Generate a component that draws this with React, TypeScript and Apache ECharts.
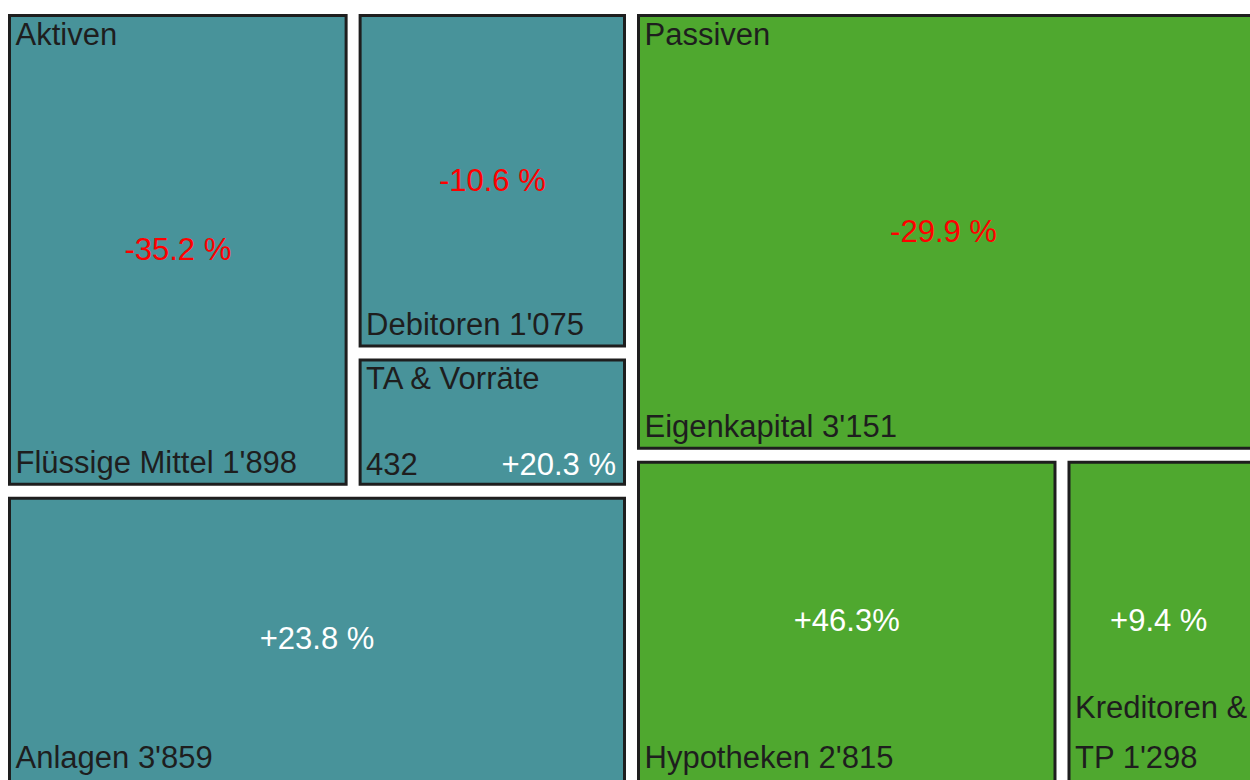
import { useEffect, useRef } from "react";
import * as echarts from "echarts";

// ---- data ----
const sideNames = ["Aktiven", "Passiven"];
const aktivNames = ["Flüssige Mittel", "Debitoren", "TA & Vorräte", "Anlagen"];
const aktivValues = [1898, 1075, 432, 3859];
const aktivChanges = ["-35.2 %", "-10.6 %", "+20.3 %", "+23.8 %"];
const passivNames = ["Eigenkapital", "Hypotheken", "Kreditoren & TP"];
const passivValues = [3151, 2815, 1298];
const passivChanges = ["-29.9 %", "+46.3%", "+9.4 %"];
const sideColors = ["#48939A", "#4FA82F"];

// ---- structure (slice & dice nesting, indices into the leaf lists) ----
type Tree = number | { dir: "h" | "v"; kids: Tree[] };
const A = aktivNames.length;
const aktivTree: Tree = { dir: "v", kids: [{ dir: "h", kids: [0, { dir: "v", kids: [1, 2] }] }, 3] };
const passivTree: Tree = { dir: "v", kids: [A + 0, { dir: "h", kids: [A + 1, A + 2] }] };
const rootTree: Tree = { dir: "h", kids: [aktivTree, passivTree] };

const leafNames = [...aktivNames, ...passivNames];
const leafValues = [...aktivValues, ...passivValues];
const leafChanges = [...aktivChanges, ...passivChanges];
const leafSide = [...aktivNames.map(() => 0), ...passivNames.map(() => 1)];
const leafFirstOfSide = leafNames.map((_, i) => i === 0 || i === A);

const sumTree = (t: Tree): number =>
  typeof t === "number" ? leafValues[t] : t.kids.reduce((s, k) => s + sumTree(k), 0);

const aktivTotal = aktivValues.reduce((a, b) => a + b, 0);
const passivTotal = passivValues.reduce((a, b) => a + b, 0);
const grandTotal = aktivTotal + passivTotal;
const sideMax = Math.max(aktivTotal, passivTotal);

function layout(t: Tree, x0: number, y0: number, x1: number, y1: number, out: number[][]) {
  if (typeof t === "number") {
    out[t] = [x0, y0, x1, y1];
    return;
  }
  const total = sumTree(t);
  let acc = 0;
  for (const k of t.kids) {
    const v = sumTree(k);
    const f0 = acc / total;
    const f1 = (acc + v) / total;
    if (t.dir === "h") layout(k, x0 + (x1 - x0) * f0, y0, x0 + (x1 - x0) * f1, y1, out);
    else layout(k, x0, y0 + (y1 - y0) * f0, x1, y0 + (y1 - y0) * f1, out);
    acc += v;
  }
}

const fmt = (v: number) => String(v).replace(/\B(?=(\d{3})+(?!\d))/g, "'");

const FONT_FAMILY = "'Liberation Sans', Arial, Helvetica, sans-serif";
const FONT_SIZE = 31;
const TEXT_COLOR = "#1e1e1e";

let measureCtx: CanvasRenderingContext2D | null = null;
function measure(s: string) {
  if (!measureCtx) {
    measureCtx = document.createElement("canvas").getContext("2d");
    if (measureCtx) measureCtx.font = `${FONT_SIZE}px "Liberation Sans", Arial, sans-serif`;
  }
  return measureCtx ? measureCtx.measureText(s).width : s.length * FONT_SIZE * 0.55;
}
function wrap(s: string, maxW: number) {
  if (measure(s) <= maxW) return [s];
  const words = s.split(" ");
  const lines: string[] = [];
  let cur = "";
  for (const w of words) {
    const cand = cur ? cur + " " + w : w;
    if (cur && measure(cand) > maxW) {
      lines.push(cur);
      cur = w;
    } else cur = cand;
  }
  if (cur) lines.push(cur);
  return lines;
}

export default function App() {
  const ref = useRef<HTMLDivElement>(null);
  useEffect(() => {
    if (!ref.current) return;
    const chart = echarts.init(ref.current, undefined, { renderer: "svg" });
    const rects: number[][] = [];
    layout(rootTree, 0, 0, grandTotal, sideMax, rects);

    const GAP = 11;
    const LW = 3;
    const PAD = 7.5;

    const txt = (text: string, x: number, y: number, fill: string, align: string) => ({
      type: "text",
      silent: true,
      style: {
        text,
        x,
        y,
        fill,
        fontSize: FONT_SIZE,
        fontFamily: FONT_FAMILY,
        align,
        verticalAlign: "middle",
      },
    });

    const renderItem = (params: any, api: any) => {
      const i = api.value(4);
      const [x0, y0, x1, y1] = rects[i];
      const p0 = api.coord([x0, y0]);
      const p1 = api.coord([x1, y1]);
      const L = Math.min(p0[0], p1[0]);
      const R = Math.max(p0[0], p1[0]);
      const T = Math.min(p0[1], p1[1]);
      const B = Math.max(p0[1], p1[1]);
      const h = GAP / 2;
      const oL = L + h, oR = R - h, oT = T + h, oB = B - h;
      const vR = Math.min(oR, api.getWidth());
      const vB = Math.min(oB, api.getHeight());
      const side = leafSide[i];
      const change = leafChanges[i];
      const changeColor = change.trim().startsWith("-") ? "#FF0000" : "#FFFFFF";
      const children: any[] = [
        {
          type: "rect",
          shape: { x: oL + LW / 2, y: oT + LW / 2, width: oR - oL - LW, height: oB - oT - LW },
          style: { fill: sideColors[side], stroke: "#1e1e1e", lineWidth: LW },
        },
      ];
      const compact = vB - oT < 160;
      if (leafFirstOfSide[i]) children.push(txt(sideNames[side], oL + PAD, oT + 20, TEXT_COLOR, "left"));
      if (compact) {
        children.push(txt(leafNames[i], oL + PAD, oT + 20, TEXT_COLOR, "left"));
        children.push(txt(fmt(leafValues[i]), oL + PAD, vB - 21, TEXT_COLOR, "left"));
        children.push(txt(change, vR - 10, vB - 21, changeColor, "right"));
      } else {
        const lines = wrap(`${leafNames[i]} ${fmt(leafValues[i])}`, oR - (oL + PAD) - 3);
        lines.forEach((ln, k) => {
          children.push(txt(ln, oL + PAD, vB - 23 - (lines.length - 1 - k) * 50, TEXT_COLOR, "left"));
        });
        children.push(txt(change, (oL + vR) / 2, (oT + vB) / 2, changeColor, "center"));
      }
      return { type: "group", children };
    };

    chart.setOption({
      animation: false,
      grid: { left: -5.5, top: 0.5, width: 1258, height: 1030, outerBoundsMode: "none", containLabel: false },
      xAxis: { type: "value", min: 0, max: grandTotal, show: false },
      yAxis: { type: "value", min: 0, max: sideMax, inverse: true, show: false },
      series: [
        {
          type: "custom",
          silent: true,
          clip: false,
          renderItem,
          encode: { x: [0, 2], y: [1, 3] },
          data: leafNames.map((n, i) => ({ name: n, value: [...rects[i], i] })),
        },
      ],
    });
    return () => chart.dispose();
  }, []);
  return (
    <div
      ref={ref}
      style={{ position: "absolute", left: 8, top: 8, width: 1242, height: 772, overflow: "hidden" }}
    />
  );
}
